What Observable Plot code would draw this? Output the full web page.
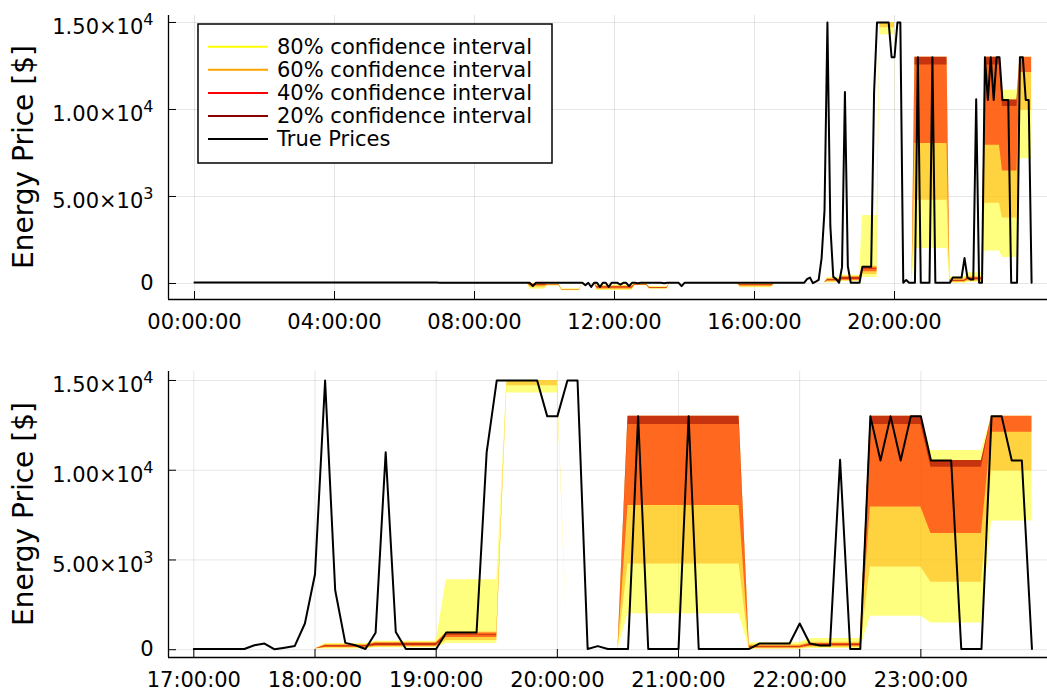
<!DOCTYPE html>
<html><head><meta charset="utf-8">
<script src="https://cdn.jsdelivr.net/npm/d3@7"></script>
<script src="https://cdn.jsdelivr.net/npm/@observablehq/plot@0.6"></script>
<style>
body{margin:0;background:#fff;}
#fig{position:relative;width:1047px;height:693px;font-family:"DejaVu Sans",sans-serif;background:#fff;}
#fig svg{display:block;}
</style></head><body><div id="fig"></div>
<script>
// 5-minute true prices, 00:00 .. 23:55
const truePrice = [
60,60,60,60,60,60,60,60,60,60,60,60,
60,60,60,60,60,60,60,60,60,60,60,60,
55,55,55,55,55,55,55,55,55,55,55,55,
55,55,55,55,55,55,55,55,55,55,55,55,
50,50,50,50,50,50,50,50,50,50,50,50,
50,50,50,50,50,50,50,50,50,50,50,50,
50,50,50,50,50,50,50,50,50,50,50,50,
45,45,45,45,45,45,45,45,45,45,45,45,
45,45,45,45,45,45,45,45,45,45,45,45,
40,40,40,40,40,40,40,40,-150,40,40,40,
40,40,40,40,40,40,40,40,40,40,40,40,
40,40,-100,40,-200,40,40,-200,40,40,-200,40,
40,40,-60,40,40,-150,40,40,20,40,40,40,
40,40,40,40,40,20,40,40,40,40,40,-150,
40,40,40,40,40,40,40,40,40,40,40,40,
40,40,40,40,40,40,40,40,40,40,40,40,
40,40,40,40,40,40,40,40,40,40,40,40,
40,40,40,40,40,40,250,340,20,110,210,1460,
4200,15000,3310,380,250,40,940,11000,990,40,40,40,
40,960,960,960,960,11000,15000,15000,15000,15000,15000,13000,
13000,15000,15000,40,200,40,40,40,13000,40,40,40,
40,13000,40,40,40,40,40,40,345,345,345,345,
1460,345,230,230,10585,40,40,13000,10545,13000,10545,13000,
13000,10545,10545,10545,40,40,40,13000,13000,10545,10545,40
];
// forecast quantiles, 5-minute steps from 09:00 .. 23:55 (zero-width before 09:00)
const bandStartHour = 9;
const q10 = [
40,40,40,40,40,40,40,-330,-330,-330,-330,-330,
-330,-150,-150,-150,-150,-150,-420,-420,-420,-420,-420,-420,
-420,40,40,40,40,40,-400,-400,-400,-400,-400,-400,
-400,-400,-400,-400,-400,-400,-400,-130,-130,-130,-130,-130,
-330,-330,-330,-330,-330,-330,-330,40,40,40,40,40,
40,40,40,40,40,40,40,40,40,40,40,40,
40,40,40,40,40,40,40,-250,-250,-250,-250,-250,
-250,-250,-250,-250,-250,-250,-250,40,40,40,40,40,
40,40,40,40,40,40,40,40,40,40,40,40,
40,40,40,40,40,40,110,110,110,110,110,110,
110,340,340,340,340,340,340,14300,14300,14300,14300,14300,
14300,40,40,40,40,40,40,2010,2010,2010,2010,2010,
2010,2010,2010,2010,2010,2010,2010,20,20,20,20,20,
20,67,67,67,67,67,67,1860,1860,1860,1860,1860,
1860,1490,1490,1490,1490,1490,1490,7170,7170,7170,7170,7170
];
const q20 = [
40,40,40,40,40,40,40,-250,-250,-250,-250,-250,
-250,-130,-130,-130,-130,-130,-400,-400,-400,-400,-400,-400,
-400,40,40,40,40,40,-360,-360,-360,-360,-360,-360,
-360,-360,-360,-360,-360,-360,-360,-110,-110,-110,-110,-110,
-310,-310,-310,-310,-310,-310,-310,40,40,40,40,40,
40,40,40,40,40,40,40,40,40,40,40,40,
40,40,40,40,40,40,40,-200,-200,-200,-200,-200,
-200,-200,-200,-200,-200,-200,-200,40,40,40,40,40,
40,40,40,40,40,40,40,40,40,40,40,40,
40,90,90,90,90,90,150,150,150,150,150,150,
150,520,520,520,520,520,520,14700,14700,14700,14700,14700,
14700,40,40,40,40,40,40,4780,4780,4780,4780,4780,
4780,4780,4780,4780,4780,4780,4780,60,60,60,60,60,
60,120,120,120,120,120,120,4610,4610,4610,4610,4610,
4610,3760,3760,3760,3760,3760,3760,9950,9950,9950,9950,9950
];
const q30 = [
40,40,40,40,40,40,40,-150,-150,-150,-150,-150,
-150,-110,-110,-110,-110,-110,-390,-390,-390,-390,-390,-390,
-390,40,40,40,40,40,-300,-300,-300,-300,-300,-300,
-300,-300,-300,-300,-300,-300,-300,-90,-90,-90,-90,-90,
-290,-290,-290,-290,-290,-290,-290,40,40,40,40,40,
40,40,40,40,40,40,40,40,40,40,40,40,
40,40,40,40,40,40,40,-150,-150,-150,-150,-150,
-150,-150,-150,-150,-150,-150,-150,40,40,40,40,40,
40,40,40,40,40,40,40,40,40,40,40,40,
40,130,130,130,130,130,190,190,190,190,190,190,
190,680,680,680,680,680,680,15000,15000,15000,15000,15000,
15000,40,40,40,40,40,40,8040,8040,8040,8040,8040,
8040,8040,8040,8040,8040,8040,8040,100,100,100,100,100,
100,190,190,190,190,190,190,7950,7950,7950,7950,7950,
7950,6470,6470,6470,6470,6470,6470,12120,12120,12120,12120,12120
];
const q40 = [
40,40,40,40,40,40,40,-100,-100,-100,-100,-100,
-100,-100,-100,-100,-100,-100,-380,-380,-380,-380,-380,-380,
-380,40,40,40,40,40,-250,-250,-250,-250,-250,-250,
-250,-250,-250,-250,-250,-250,-250,-80,-80,-80,-80,-80,
-270,-270,-270,-270,-270,-270,-270,40,40,40,40,40,
40,40,40,40,40,40,40,40,40,40,40,40,
40,40,40,40,40,40,40,-120,-120,-120,-120,-120,
-120,-120,-120,-120,-120,-120,-120,40,40,40,40,40,
40,40,40,40,40,40,40,40,40,40,40,40,
40,170,170,170,170,170,230,230,230,230,230,230,
230,800,800,800,800,800,800,15000,15000,15000,15000,15000,
15000,40,40,40,40,40,40,12550,12550,12550,12550,12550,
12550,12550,12550,12550,12550,12550,12550,130,130,130,130,130,
130,230,230,230,230,230,230,12550,12550,12550,12550,12550,
12550,10170,10170,10170,10170,10170,10170,13000,13000,13000,13000,13000
];
const q60 = [
40,40,40,40,40,40,40,-60,-60,-60,-60,-60,
-60,-90,-90,-90,-90,-90,-370,-370,-370,-370,-370,-370,
-370,40,40,40,40,40,-200,-200,-200,-200,-200,-200,
-200,-200,-200,-200,-200,-200,-200,-60,-60,-60,-60,-60,
-250,-250,-250,-250,-250,-250,-250,40,40,40,40,40,
40,40,40,40,40,40,40,40,40,40,40,40,
40,40,40,40,40,40,40,-90,-90,-90,-90,-90,
-90,-90,-90,-90,-90,-90,-90,40,40,40,40,40,
40,40,40,40,40,40,40,40,40,40,40,40,
40,220,220,220,220,220,340,340,340,340,340,340,
340,850,850,850,850,850,850,15000,15000,15000,15000,15000,
15000,40,40,40,40,40,40,13000,13000,13000,13000,13000,
13000,13000,13000,13000,13000,13000,13000,170,170,170,170,170,
170,300,300,300,300,300,300,13000,13000,13000,13000,13000,
13000,10545,10545,10545,10545,10545,10545,13000,13000,13000,13000,13000
];
const q70 = [
40,40,40,40,40,40,40,-30,-30,-30,-30,-30,
-30,-80,-80,-80,-80,-80,-360,-360,-360,-360,-360,-360,
-360,40,40,40,40,40,-170,-170,-170,-170,-170,-170,
-170,-170,-170,-170,-170,-170,-170,-50,-50,-50,-50,-50,
-230,-230,-230,-230,-230,-230,-230,40,40,40,40,40,
40,40,40,40,40,40,40,40,40,40,40,40,
40,40,40,40,40,40,40,-60,-60,-60,-60,-60,
-60,-60,-60,-60,-60,-60,-60,40,40,40,40,40,
40,40,40,40,40,40,40,40,40,40,40,40,
40,250,250,250,250,250,370,370,370,370,370,370,
370,935,935,935,935,935,935,15000,15000,15000,15000,15000,
15000,40,40,40,40,40,40,13000,13000,13000,13000,13000,
13000,13000,13000,13000,13000,13000,13000,200,200,200,200,200,
200,343,343,343,343,343,343,13000,13000,13000,13000,13000,
13000,10545,10545,10545,10545,10545,10545,13000,13000,13000,13000,13000
];
const q80 = [
40,40,40,40,40,40,40,0,0,0,0,0,
0,-60,-60,-60,-60,-60,-340,-340,-340,-340,-340,-340,
-340,40,40,40,40,40,-130,-130,-130,-130,-130,-130,
-130,-130,-130,-130,-130,-130,-130,-30,-30,-30,-30,-30,
-210,-210,-210,-210,-210,-210,-210,40,40,40,40,40,
40,40,40,40,40,40,40,40,40,40,40,40,
40,40,40,40,40,40,40,-30,-30,-30,-30,-30,
-30,-30,-30,-30,-30,-30,-30,40,40,40,40,40,
40,40,40,40,40,40,40,40,40,40,40,40,
40,290,290,290,290,290,410,410,410,410,410,410,
410,990,990,990,990,990,990,15000,15000,15000,15000,15000,
15000,40,40,40,40,40,40,13000,13000,13000,13000,13000,
13000,13000,13000,13000,13000,13000,13000,280,280,280,280,280,
280,420,420,420,420,420,420,13000,13000,13000,13000,13000,
13000,10545,10545,10545,10545,10545,10545,13000,13000,13000,13000,13000
];
const q90 = [
40,40,40,40,40,40,40,20,20,20,20,20,
20,-40,-40,-40,-40,-40,-300,-300,-300,-300,-300,-300,
-300,40,40,40,40,40,-80,-80,-80,-80,-80,-80,
-80,-80,-80,-80,-80,-80,-80,-10,-10,-10,-10,-10,
-180,-180,-180,-180,-180,-180,-180,40,40,40,40,40,
40,40,40,40,40,40,40,40,40,40,40,40,
40,40,40,40,40,40,40,0,0,0,0,0,
0,0,0,0,0,0,0,40,40,40,40,40,
40,40,40,40,40,40,40,40,40,40,40,40,
40,340,340,340,340,340,470,470,470,470,470,470,
470,3900,3900,3900,3900,3900,3900,15000,15000,15000,15000,15000,
15000,40,40,40,40,40,40,13000,13000,13000,13000,13000,
13000,13000,13000,13000,13000,13000,13000,390,390,390,390,390,
390,623,623,623,623,623,623,13000,13000,13000,13000,13000,
13000,11100,11100,11100,11100,11100,11100,13000,13000,13000,13000,13000
];
const seriesNames = ["80% confidence interval","60% confidence interval","40% confidence interval","20% confidence interval","True Prices"];
const seriesColors = ["#FFFF00","#FFA500","#FF0000","#8B0000","#000000"];
const topXTicks = [0,4,8,12,16,20];
const bottomXTicks = [17,18,19,20,21,22,23];
const yTicks = [0,5000,10000,15000];
const yTickLabels = ["0","5.00×10^3","1.00×10^4","1.50×10^4"];
const yLabel = "Energy Price [$]";

const stepH = 5/60;
const trueRows = truePrice.map((p,i)=>({t:i*stepH, price:p}));
const bandRows = q10.map((_,i)=>({t:bandStartHour+i*stepH, q10:q10[i], q20:q20[i], q30:q30[i], q40:q40[i], q60:q60[i], q70:q70[i], q80:q80[i], q90:q90[i]}));
const bands = [["q10","q90",0],["q20","q80",1],["q30","q70",2],["q40","q60",3]];
const fmtTime = h => String(h).padStart(2,"0")+":00:00";

function panel({xDomain, xTicks, yDomain, height, marginTop, marginBottom, tMin}) {
  const tr = trueRows.filter(d=>d.t>=tMin-1e-9);
  const br = bandRows.filter(d=>d.t>=tMin-1e-9);
  const svg = Plot.plot({
    width:1047, height, marginLeft:168, marginRight:0, marginTop, marginBottom,
    style:{fontFamily:"DejaVu Sans", fontSize:"21px", color:"#000", background:"white", overflow:"hidden"},
    x:{domain:xDomain, label:null},
    y:{domain:yDomain, label:null},
    marks:[
      Plot.gridX(xTicks, {stroke:"#000", strokeOpacity:0.1, strokeWidth:1}),
      Plot.gridY(yTicks, {stroke:"#000", strokeOpacity:0.1, strokeWidth:1}),
      ...bands.map(([lo,hi,c])=>Plot.areaY(br, {x:"t", y1:lo, y2:hi, fill:seriesColors[c], fillOpacity:0.5, clip:true})),
      Plot.lineY(tr, {x:"t", y:"price", stroke:seriesColors[4], strokeWidth:2, clip:true}),
      Plot.ruleX([xDomain[0]], {stroke:"#000", strokeWidth:1.3}),
      Plot.ruleY([yDomain[0]], {stroke:"#000", strokeWidth:1.3}),
      Plot.axisX(xTicks, {tickSize:-8, tickPadding:23, tickFormat:fmtTime, fontSize:21, label:null}),
      Plot.axisY(yTicks, {tickSize:-8, tickPadding:23, tickFormat:d=>yTickLabels[yTicks.indexOf(d)], fontSize:21, label:null})
    ]
  });
  const s = d3.select(svg);
  s.selectAll('g[aria-label="y-axis tick label"] text').each(function(){
    const txt = d3.select(this).text();
    if (txt.includes("^")) {
      const [base, sup] = txt.split("^");
      const el = d3.select(this); el.text("");
      el.append("tspan").attr("dy","5").text(base);
      el.append("tspan").attr("dy","-9").attr("font-size","16px").text(sup);
    }
  });
  s.append("text").attr("transform",`translate(23,${marginTop+(height-marginTop-marginBottom)/2}) rotate(-90)`)
    .attr("text-anchor","middle").attr("dominant-baseline","central")
    .attr("font-family","DejaVu Sans").attr("font-size",28).attr("fill","#000").text(yLabel);
  return svg;
}

const fig = document.getElementById("fig");
const top1 = panel({xDomain:[-0.743,24.371], xTicks:topXTicks, yDomain:[-920,15400], height:347, marginTop:15, marginBottom:48, tMin:0});
const lg = d3.select(top1).append("g").attr("text-anchor","start");
lg.append("rect").attr("x",198).attr("y",24).attr("width",354).attr("height",139).attr("fill","#fff").attr("stroke","#000").attr("stroke-width",1.5);
seriesNames.forEach((n,i)=>{
  const y = 46.7 + i*23.1;
  lg.append("line").attr("x1",208).attr("x2",268).attr("y1",y).attr("y2",y).attr("stroke",seriesColors[i]).attr("stroke-width",2);
  lg.append("text").attr("x",277).attr("y",y).attr("text-anchor","start").attr("dominant-baseline","central").attr("font-family","DejaVu Sans").attr("font-size",21).attr("fill","#000").text(n);
});
fig.appendChild(top1);
const bot = panel({xDomain:[16.791,24.045], xTicks:bottomXTicks, yDomain:[-434,15500], height:346, marginTop:24, marginBottom:36, tMin:17});
fig.appendChild(bot);
</script></body></html>
